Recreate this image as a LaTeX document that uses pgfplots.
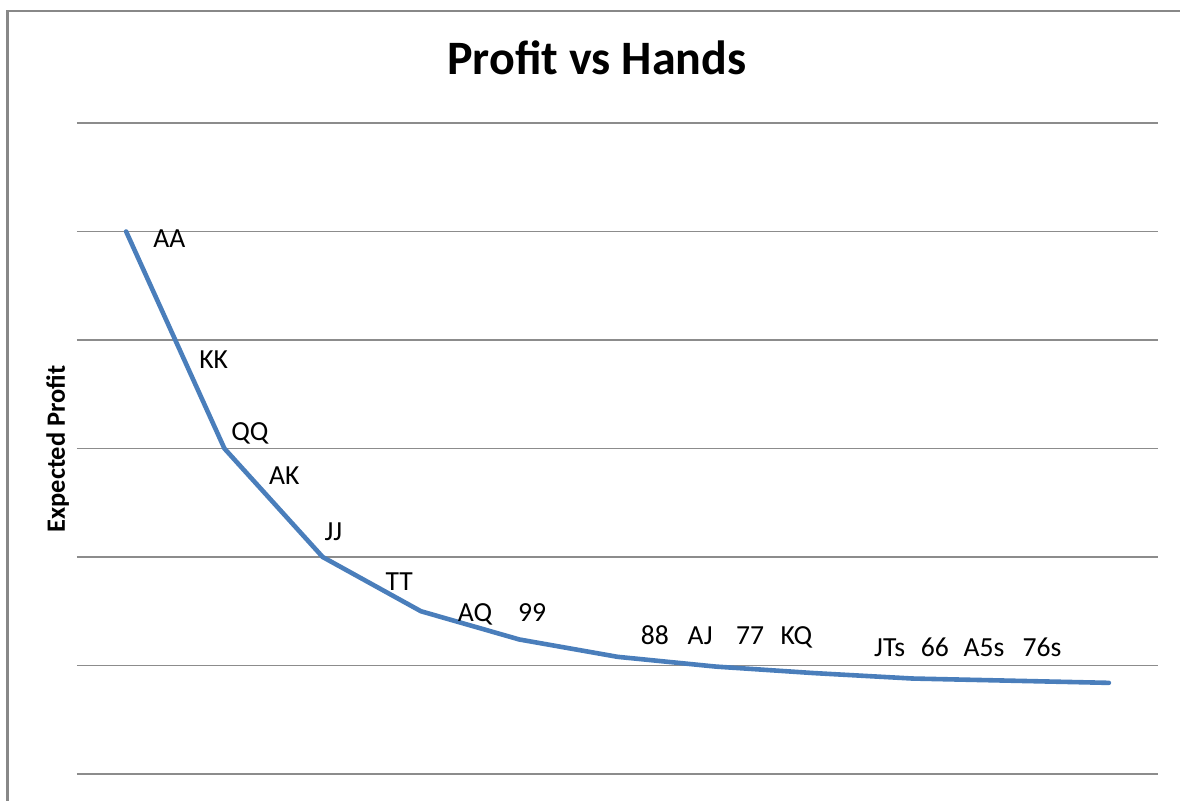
\documentclass[border=0pt]{standalone}
\usepackage{pgfplots}
\pgfplotsset{compat=1.18}
\usepackage{fontspec}
\setmainfont{Carlito}
\definecolor{linecol}{HTML}{4A7EBB}
\definecolor{gridcol}{HTML}{8C8C8C}
\definecolor{framecol}{HTML}{888888}
\begin{document}
\begin{tikzpicture}[x=1pt,y=1pt]
\useasboundingbox (-38.5,-13) rectangle (551.5,387);
\draw[framecol, line width=1.1pt] (-34.75,-20) -- (-34.75,381.5) -- (570,381.5);
\begin{axis}[
  scale only axis, width=540.5pt, height=325.5pt,
  xmin=0.5, xmax=11.5, ymin=0, ymax=6,
  ytick={0,1,2,3,4,5,6}, xtick=\empty, yticklabels={},
  ymajorgrids, major grid style={gridcol, line width=0.7pt},
  axis line style={draw=none}, major tick length=0pt,
  clip=false,
  nodes={font=\fontsize{13.8}{16}\selectfont, anchor=base, inner sep=0pt},
]
\addplot[linecol, line width=2.3pt, line join=round, line cap=round] coordinates {
(1,5.00) (2,3.00) (3,2.00) (4,1.50) (5,1.24) (6,1.08) (7,0.99) (8,0.93) (9,0.88) (10,0.86) (11,0.84)
};
\node at (axis cs:1.44,4.85) {AA};
\node at (axis cs:1.89,3.74) {KK};
\node at (axis cs:2.26,3.07) {QQ};
\node at (axis cs:2.61,2.67) {AK};
\node at (axis cs:3.11,2.15) {JJ};
\node at (axis cs:3.78,1.69) {TT};
\node at (axis cs:4.55,1.41) {AQ};
\node at (axis cs:5.13,1.41) {99};
\node at (axis cs:6.38,1.19) {88};
\node at (axis cs:6.84,1.19) {AJ};
\node at (axis cs:7.35,1.19) {77};
\node at (axis cs:7.82,1.19) {KQ};
\node at (axis cs:8.77,1.08) {JTs};
\node at (axis cs:9.23,1.08) {66};
\node at (axis cs:9.73,1.08) {A5s};
\node at (axis cs:10.32,1.08) {76s};
\end{axis}
\node[anchor=base, inner sep=0pt, font=\fontsize{24}{28}\selectfont\bfseries] at (260,349.5) {Profit vs Hands};
\node[rotate=90, anchor=base, inner sep=0pt, font=\fontsize{13.2}{15}\selectfont\bfseries] at (-6,162.5) {Expected Profit};
\end{tikzpicture}
\end{document}
